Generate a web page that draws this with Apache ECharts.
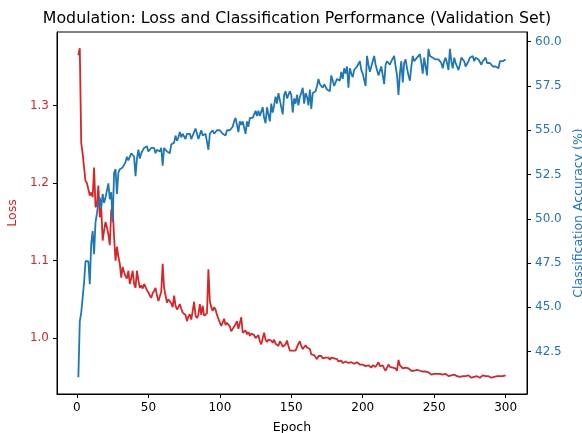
<!DOCTYPE html>
<html>
<head>
<meta charset="utf-8">
<script src="https://cdn.jsdelivr.net/npm/echarts@6/dist/echarts.min.js"></script>
<style>
  html, body { margin: 0; padding: 0; background: #fff; }
  #chart { width: 582px; height: 433px; }
</style>
</head>
<body>
<div id="chart"></div>
<script>
// validation loss, epochs 1..300
var loss = [
  1.365, 1.374, 1.252, 1.238, 1.220, 1.203, 1.200, 1.199, 1.184, 1.188,
  1.182, 1.220, 1.169, 1.172, 1.197, 1.156, 1.168, 1.126, 1.139, 1.150,
  1.143, 1.134, 1.120, 1.165, 1.169, 1.130, 1.100, 1.118, 1.105, 1.096,
  1.078, 1.092, 1.085, 1.080, 1.077, 1.087, 1.070, 1.078, 1.087, 1.070,
  1.065, 1.087, 1.075, 1.065, 1.068, 1.064, 1.070, 1.072, 1.062, 1.059,
  1.055, 1.052, 1.058, 1.061, 1.065, 1.055, 1.048, 1.050, 1.060, 1.096,
  1.065, 1.055, 1.046, 1.050, 1.048, 1.045, 1.040, 1.055, 1.042, 1.037,
  1.040, 1.044, 1.038, 1.033, 1.035, 1.030, 1.022, 1.028, 1.031, 1.024,
  1.035, 1.047, 1.029, 1.026, 1.030, 1.044, 1.030, 1.042, 1.029, 1.030,
  1.032, 1.089, 1.048, 1.040, 1.035, 1.040, 1.037, 1.030, 1.025, 1.020,
  1.016, 1.018, 1.025, 1.017, 1.020, 1.022, 1.015, 1.009, 1.012, 1.015,
  1.018, 1.022, 1.012, 1.010, 1.027, 1.007, 1.008, 1.010, 1.005, 1.008,
  1.003, 1.006, 1.008, 1.004, 1.000, 1.002, 1.004, 0.996, 0.992, 1.000,
  1.007, 0.998, 0.995, 0.998, 1.000, 0.997, 0.994, 0.998, 0.993, 0.991,
  0.990, 0.996, 0.993, 0.989, 0.988, 0.992, 0.997, 0.990, 0.984, 0.985,
  0.984, 0.983, 0.984, 0.985, 0.993, 0.996, 0.990, 0.986, 0.988, 0.991,
  0.988, 0.989, 0.986, 0.979, 0.981, 0.978, 0.980, 0.973, 0.977, 0.976,
  0.977, 0.974, 0.976, 0.975, 0.973, 0.975, 0.972, 0.975, 0.973, 0.974,
  0.972, 0.973, 0.970, 0.969, 0.971, 0.968, 0.966, 0.970, 0.969, 0.968,
  0.970, 0.969, 0.968, 0.967, 0.966, 0.969, 0.967, 0.966, 0.968, 0.966,
  0.965, 0.964, 0.966, 0.965, 0.963, 0.962, 0.965, 0.966, 0.963, 0.965,
  0.969, 0.964, 0.962, 0.965, 0.961, 0.958, 0.962, 0.966, 0.963, 0.964,
  0.962, 0.960, 0.961, 0.958, 0.972, 0.965, 0.963, 0.961, 0.963, 0.962,
  0.960, 0.961, 0.959, 0.958, 0.960, 0.958, 0.957, 0.959, 0.957, 0.958,
  0.956, 0.957, 0.955, 0.957, 0.955, 0.956, 0.954, 0.953, 0.955, 0.954,
  0.955, 0.954, 0.953, 0.954, 0.955, 0.953, 0.952, 0.954, 0.952, 0.951,
  0.953, 0.952, 0.951, 0.953, 0.952, 0.951, 0.952, 0.950, 0.952, 0.951,
  0.950, 0.951, 0.950, 0.952, 0.950, 0.949, 0.951, 0.950, 0.949, 0.951,
  0.950, 0.949, 0.951, 0.952, 0.950, 0.951, 0.950, 0.951, 0.950, 0.949,
  0.951, 0.950, 0.952, 0.951, 0.950, 0.951, 0.953, 0.951, 0.952, 0.952
];

// validation accuracy (%), epochs 1..300
var accuracy = [
  41.05, 44.2, 44.7, 44.6, 46.4, 47.6, 47.5, 47.6, 46.3, 48.6,
  49.3, 48.0, 49.8, 50.3, 50.9, 51.2, 50.6, 51.4, 50.9, 51.2,
  51.6, 52.0, 51.1, 51.5, 49.8, 52.6, 52.8, 51.4, 52.6, 52.8,
  52.7, 52.9, 52.9, 53.2, 53.5, 53.3, 53.5, 53.7, 53.6, 53.5,
  52.4, 53.4, 53.9, 53.4, 53.7, 53.8, 54.0, 53.9, 54.1, 53.8,
  53.9, 54.0, 53.9, 54.0, 53.7, 53.9, 54.0, 53.8, 54.0, 53.0,
  54.0, 54.0, 53.8, 53.9, 53.7, 54.2, 54.1, 54.3, 54.7, 54.4,
  54.6, 54.9, 54.6, 54.8, 54.7, 54.5, 54.8, 54.7, 54.8, 54.5,
  54.6, 54.9, 55.1, 54.8, 54.5, 54.6, 55.0, 54.7, 54.6, 54.8,
  54.7, 53.9, 54.8, 54.9, 55.0, 54.8, 54.9, 55.0, 55.1, 55.0,
  54.9, 54.8, 54.9, 54.7, 55.0, 54.9, 55.0, 54.9, 55.2, 55.5,
  55.7, 55.3, 54.9, 55.5, 55.3, 55.5, 55.6, 54.8, 55.5, 55.2,
  55.7, 55.6, 55.7, 55.9, 56.1, 55.8, 56.1, 55.8, 55.9, 56.3,
  55.7, 55.4, 56.3, 55.9, 55.5, 56.5, 56.0, 56.4, 56.9, 56.5,
  57.1, 56.7, 56.8, 55.9, 57.0, 57.2, 56.8, 56.8, 57.2, 57.0,
  56.0, 56.8, 56.5, 57.0, 56.4, 56.9, 57.1, 57.4, 56.5, 57.1,
  56.9, 56.4, 57.3, 56.2, 57.1, 57.0, 57.2, 57.5, 57.9, 57.6,
  57.5, 57.4, 57.6, 57.5, 57.3, 57.4, 57.2, 58.1, 58.0, 57.5,
  57.7, 57.9, 58.0, 57.8, 58.3, 57.9, 58.5, 58.2, 58.6, 57.4,
  58.5, 58.2, 58.0, 58.4, 58.3, 58.6, 58.7, 58.9, 58.4, 58.2,
  58.1, 57.5, 59.2, 58.7, 58.3, 58.4, 58.9, 59.2, 58.7, 58.4,
  58.1, 58.1, 58.6, 58.5, 57.6, 58.7, 58.9, 58.8, 58.7, 58.9,
  59.0, 59.2, 58.6, 58.1, 57.0, 58.2, 58.9, 57.7, 58.8, 59.0,
  58.5, 58.1, 57.8, 58.6, 59.2, 58.9, 59.0, 59.1, 59.2, 59.3,
  58.8, 58.2, 59.1, 58.6, 58.1, 59.6, 59.2, 59.3, 59.1, 59.2,
  59.0, 59.1, 59.0, 58.9, 58.8, 58.5, 58.9, 59.1, 58.8, 58.4,
  59.6, 58.9, 58.5, 59.1, 58.8, 58.6, 58.4, 58.7, 59.1, 59.0,
  58.9, 58.6, 58.5, 58.9, 59.1, 59.2, 59.2, 58.9, 59.1, 59.0,
  59.0, 58.9, 58.7, 58.9, 59.0, 59.1, 58.8, 58.7, 58.8, 58.7,
  58.6, 58.7, 58.6, 58.7, 58.5, 58.9, 59.0, 58.9, 59.0, 59.0
];

var epochTicks = [0, 50, 100, 150, 200, 250, 300];
var lossTicks = [1.0, 1.1, 1.2, 1.3];
var accTicks = [42.5, 45.0, 47.5, 50.0, 52.5, 55.0, 57.5, 60.0];

var RED = '#d62728';
var BLUE = '#1f77b4';
var FONT = 'DejaVu Sans';

var lossData = [];
var accData = [];
for (var i = 0; i < loss.length; i++) {
  lossData.push([i + 1, loss[i]]);
  accData.push([i + 1, accuracy[i]]);
}

var tick = { show: true, inside: false, length: 4, lineStyle: { color: '#000', width: 1 } };
var spine = { show: true, onZero: false, lineStyle: { color: '#000', width: 1 } };

var chart = echarts.init(document.getElementById('chart'), null, { renderer: 'canvas' });
var option = {
  animation: false,
  backgroundColor: '#fff',
  title: {
    text: 'Modulation: Loss and Classification Performance (Validation Set)',
    left: 292, top: 6, textAlign: 'center',
    textStyle: { fontFamily: FONT, fontSize: 15.8, fontWeight: 'normal', color: '#000' }
  },
  grid: {
    left: 57, right: 55, top: 32, bottom: 39,
    outerBoundsMode: 'none', containLabel: false,
    show: true, borderColor: '#000', borderWidth: 1, backgroundColor: 'transparent'
  },
  xAxis: {
    type: 'value', min: -13.95, max: 314.95,
    name: 'Epoch', nameLocation: 'middle', nameGap: 27,
    nameTextStyle: { fontFamily: FONT, fontSize: 12.5, color: '#000' },
    axisLine: spine,
    axisTick: Object.assign({ customValues: epochTicks }, tick),
    axisLabel: { customValues: epochTicks, margin: 8, fontFamily: FONT, fontSize: 12, color: '#000' },
    splitLine: { show: false }
  },
  yAxis: [{
    type: 'value', position: 'left', min: 0.928, max: 1.395,
    name: 'Loss', nameLocation: 'middle', nameGap: 37, nameRotate: 90,
    nameTextStyle: { fontFamily: FONT, fontSize: 12.5, color: RED },
    axisLine: spine,
    axisTick: Object.assign({ customValues: lossTicks }, tick),
    axisLabel: {
      customValues: lossTicks, margin: 8, fontFamily: FONT, fontSize: 12, color: RED,
      formatter: function (v) { return v.toFixed(1); }
    },
    splitLine: { show: false }
  }, {
    type: 'value', position: 'right', min: 40.1, max: 60.55,
    name: 'Classification Accuracy (%)', nameLocation: 'middle', nameGap: 43, nameRotate: 90,
    nameTextStyle: { fontFamily: FONT, fontSize: 12.5, color: BLUE },
    axisLine: spine,
    axisTick: Object.assign({ customValues: accTicks }, tick),
    axisLabel: {
      customValues: accTicks, margin: 8, fontFamily: FONT, fontSize: 12, color: BLUE,
      formatter: function (v) { return v.toFixed(1); }
    },
    splitLine: { show: false }
  }],
  series: [{
    name: 'Loss', type: 'line', yAxisIndex: 0, data: lossData,
    showSymbol: false, symbol: 'none',
    lineStyle: { color: RED, width: 1.8 }, itemStyle: { color: RED }
  }, {
    name: 'Accuracy', type: 'line', yAxisIndex: 1, data: accData,
    showSymbol: false, symbol: 'none',
    lineStyle: { color: BLUE, width: 1.8 }, itemStyle: { color: BLUE }
  }]
};
chart.setOption(option);
</script>
</body>
</html>
